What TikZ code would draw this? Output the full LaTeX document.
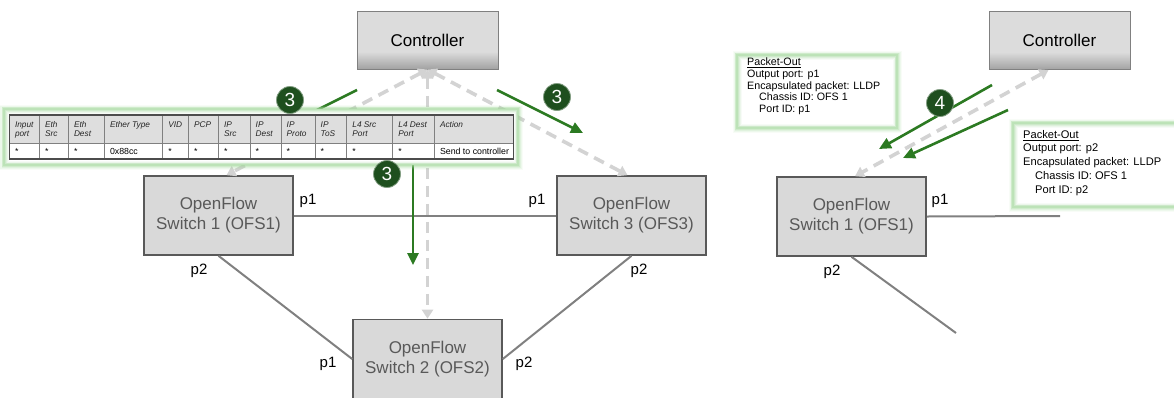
\documentclass[tikz,border=0pt]{standalone}
\usepackage{fontspec}
\setmainfont{Liberation Sans}
\usetikzlibrary{arrows.meta}

\definecolor{boxfill}{HTML}{D9D9D9}
\definecolor{boxedge}{HTML}{595959}
\definecolor{swtext}{HTML}{595959}
\definecolor{linkgray}{HTML}{808080}
\definecolor{dashgray}{HTML}{D3D3D3}
\definecolor{flowgreen}{HTML}{2C7A22}
\definecolor{badgegreen}{HTML}{1E4F1E}
\definecolor{glowgreen}{HTML}{A3D89C}
\definecolor{hdrgray}{HTML}{DEDEDE}
\definecolor{tblline}{HTML}{808080}
\definecolor{ctrltop}{HTML}{DCDCDC}
\definecolor{ctrlbot}{HTML}{A2A2A2}

% the node box maps onto 25bp..75bp of the shading
\pgfdeclareverticalshading{ctrlshade}{100bp}{color(0bp)=(ctrlbot); color(25bp)=(ctrlbot); color(40bp)=(ctrltop); color(100bp)=(ctrltop)}

\tikzset{
  switchbox/.style={draw=boxedge, line width=1.6pt, fill=boxfill, minimum width=149pt,
    minimum height=79pt, text=swtext, font=\fontsize{17}{20}\selectfont, align=center, inner sep=0pt},
  ctrlbox/.style={draw=linkgray, line width=1pt, shading=ctrlshade, minimum width=141pt,
    minimum height=58pt, font=\fontsize{17}{20}\selectfont, inner sep=0pt},
  port/.style={font=\fontsize{15}{15}\selectfont, inner sep=0pt},
  link/.style={draw=linkgray, line width=2pt},
  ctrllink/.style={draw=dashgray, line width=3.6pt, dash pattern=on 11pt off 7pt,
    {Triangle[length=9pt,width=11pt]}-{Triangle[length=9pt,width=11pt]}},
  flowline/.style={draw=flowgreen, line width=2.6pt},
  flow/.style={flowline, -{Triangle[length=12pt,width=11pt]}},
  badge/.style={circle, fill=badgegreen, draw=badgegreen!55!white, line width=0.8pt,
    text=white, minimum size=27pt, inner sep=0pt, font=\fontsize{19}{19}\selectfont},
  hdrcell/.style={anchor=north west, inner sep=0pt, align=left,
    font=\fontsize{8.3}{9}\selectfont\itshape, text=black!85},
  datcell/.style={anchor=base west, inner sep=0pt, font=\fontsize{8.8}{9}\selectfont},
  pktext/.style={anchor=north west, inner sep=0pt, align=left},
}

% white panel with a soft green halo round its edge
\newcommand\glowframe[2]{%
  \fill[white] (#1) rectangle (#2);
  \foreach \w/\o in {9/0.08,7/0.12,5/0.18,3.2/0.28,1.6/0.4}{%
    \draw[glowgreen, line width=\w pt, opacity=\o] (#1) rectangle (#2);}%
}

\begin{document}
\begin{tikzpicture}[x=1pt, y=-1pt]
\useasboundingbox (0,0) rectangle (1174,397);
\clip (0,0) rectangle (1174,397);

% ---------------- left: three switches and a controller ----------------
\node[ctrlbox] (ctrl) at (427.5,40) {Controller};
\node[switchbox] (ofs1) at (218.5,215.5) {OpenFlow\\Switch 1 (OFS1)};
\node[switchbox] (ofs3) at (631.5,215.5) {OpenFlow\\Switch 3 (OFS3)};
\node[switchbox] (ofs2) at (427.5,359) {OpenFlow\\Switch 2 (OFS2)};

% data-plane links
\draw[link] (ofs1.east) -- (ofs3.west);
\draw[link] (ofs1.south) -- (ofs2.west);
\draw[link] (ofs3.south) -- (ofs2.east);

% port labels
\node[port] (l1p1) at (308,201) {p1};
\node[port] (l1p2) at (199,271) {p2};
\node[port] (l3p1) at (537,201) {p1};
\node[port] (l3p2) at (639,271) {p2};
\node[port] (l2p1) at (328,364) {p1};
\node[port] (l2p2) at (524,364) {p2};

% control channels
\draw[ctrllink] (ctrl.south) -- ([xshift=8pt]ofs1.north);
\draw[ctrllink] (ctrl.south) -- ([xshift=-4pt]ofs3.north);
\draw[ctrllink] (ctrl.south) -- (ofs2.north);

% flow-mod messages
\coordinate (g1s) at (357,90);
\coordinate (g1e) at (303,117);
\coordinate (g2s) at (497,90);
\coordinate (g2e) at (583,133);
\coordinate (g3s) at (413,140);
\coordinate (g3e) at (413,265);
\draw[flowline] (g1s) -- (g1e);
\draw[flow] (g2s) -- (g2e);
\draw[flow] (g3s) -- (g3e);

% flow table entry
\glowframe{4,109}{518,165}
\fill[hdrgray] (9.3,115) rectangle (513.3,143);
\draw[tblline, line width=0.8pt] (9.3,143) -- (513.3,143);
\foreach \x in {39.3,68.3,104.3,162.7,188.3,218.3,250,281,315,346.7,392.7,434.3}
  \draw[tblline, line width=0.8pt] (\x,115) -- (\x,159);
\draw[black!70, line width=1.3pt] (9.3,115) rectangle (513.3,159);
\foreach \x/\lbl [count=\i] in {9.3/{Input\\port},39.3/{Eth\\Src},68.3/{Eth\\Dest},
    104.3/{Ether Type},162.7/VID,188.3/PCP,218.3/{IP\\Src},250/{IP\\Dest},281/{IP\\Proto},
    315/{IP\\ToS},346.7/{L4 Src\\Port},392.7/{L4 Dest\\Port},434.3/Action}
  \node[hdrcell] (hdr\i) at (\x+5.5,121.5) {\lbl};
\foreach \x/\val [count=\i] in {9.3/*,39.3/*,68.3/*,104.3/0x88cc,162.7/*,188.3/*,218.3/*,
    250/*,281/*,315/*,346.7/*,392.7/*,434.3/Send to controller}
  \node[datcell] (dat\i) at (\x+5.5,154.5) {\val};

% step badges
\node[badge] (b1) at (290,100) {3};
\node[badge] (b2) at (557,97) {3};
\node[badge] (b3) at (387,174) {3};

% ---------------- right: packet-out to switch 1 ----------------
\node[ctrlbox] (rctrl) at (1059.5,40.5) {Controller};
\node[switchbox] (rofs1) at (851.5,216.5) {OpenFlow\\Switch 1 (OFS1)};
\coordinate (rp1end) at (1060,216);
\coordinate (rp2end) at (956,333);
\draw[link] (rofs1.east) -- (rp1end);
\draw[link] (rofs1.south) -- (rp2end);
\node[port] (rp1) at (940,201) {p1};
\node[port] (rp2) at (832,272) {p2};

\draw[ctrllink] ([xshift=-11pt]rctrl.south) -- ([xshift=3.5pt]rofs1.north);

\coordinate (g4s) at (992,85);
\coordinate (g4e) at (879,149);
\coordinate (g5s) at (1008,110);
\coordinate (g5e) at (903,158);
\draw[flow] (g4s) -- (g4e);
\draw[flow] (g5s) -- (g5e);

\node[badge] (b4) at (940,103) {4};

\glowframe{737,55}{897,128}
\node[pktext, font=\fontsize{10.7}{11.8}\selectfont] (po1) at (747,57.5)
  {\underline{Packet-Out}\\Output port: p1\\Encapsulated packet: LLDP\\
   \hspace*{12pt}Chassis ID: OFS 1\\\hspace*{12pt}Port ID: p1};

\glowframe{1013,123}{1182,207}
\node[pktext, font=\fontsize{11.1}{13.7}\selectfont] (po2) at (1023,130)
  {\underline{Packet-Out}\\Output port: p2\\Encapsulated packet: LLDP\\
   \hspace*{12pt}Chassis ID: OFS 1\\\hspace*{12pt}Port ID: p2};
\end{tikzpicture}
\end{document}
